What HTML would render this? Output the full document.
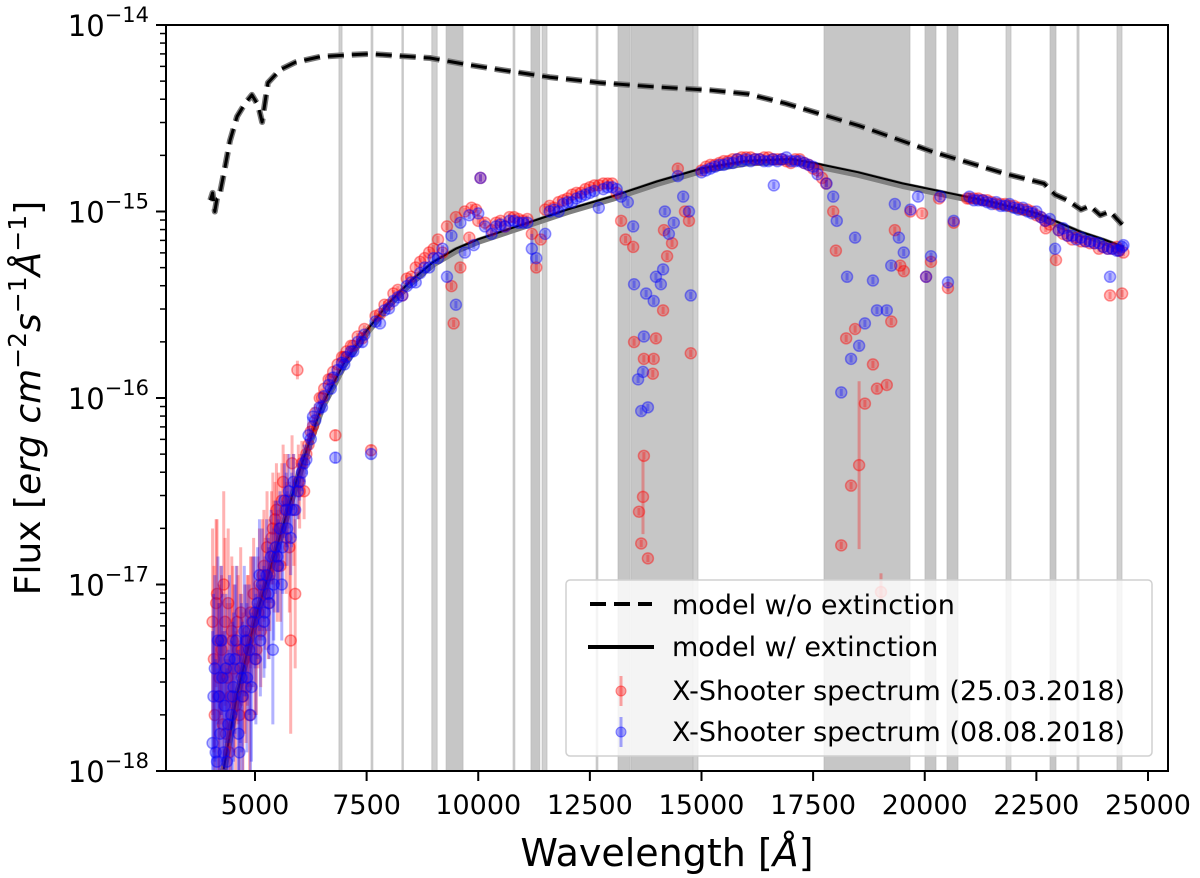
<!DOCTYPE html>
<html><head><meta charset="utf-8"><style>
html,body{margin:0;padding:0;background:#fff;}
svg{display:block;font-family:"DejaVu Sans","Liberation Sans",sans-serif;}
</style></head><body>
<svg id="chart" width="1200" height="878" viewBox="0 0 1200 878" xmlns="http://www.w3.org/2000/svg">
<g id="bands"></g>
<g id="models"></g>
<g id="pts"></g>
<g id="axes"></g>
<g id="legend">
<rect x="566" y="580" width="586" height="176" rx="4" fill="rgba(255,255,255,0.8)" stroke="#d0d0d0" stroke-width="1.5"/>
<g>
<line x1="590" y1="604" x2="652" y2="604" stroke="#000" stroke-width="4" stroke-dasharray="16,8"/>
<text x="672" y="614" font-size="27">model w/o extinction</text></g>
<g>
<line x1="588" y1="647" x2="654" y2="647" stroke="#000" stroke-width="4"/>
<text x="672" y="656" font-size="27">model w/ extinction</text></g>
<g>
<line x1="621" y1="676" x2="621" y2="706" stroke="rgba(255,0,0,0.35)" stroke-width="3"/>
<circle cx="621" cy="691" r="5" fill="rgba(255,0,0,0.35)" stroke="rgba(255,0,0,0.45)"/>
<text x="672" y="700" font-size="27">X-Shooter spectrum (25.03.2018)</text></g>
<g>
<line x1="621" y1="717" x2="621" y2="747" stroke="rgba(0,0,255,0.35)" stroke-width="3"/>
<circle cx="621" cy="732" r="5" fill="rgba(0,0,255,0.35)" stroke="rgba(0,0,255,0.45)"/>
<text x="672" y="741" font-size="27">X-Shooter spectrum (08.08.2018)</text></g>
</g>
</svg>
<script>
// ----- data -----
const xTicks = [5000, 7500, 10000, 12500, 15000, 17500, 20000, 22500, 25000];
const yDecades = [-14, -15, -16, -17, -18];
const bandStarts = [6880, 7600, 8290, 8960, 9280, 10780, 11180, 11430, 12640, 13130, 13420, 14810, 17744, 20005, 20498, 21820, 22805, 23410, 24306];
const bandEnds   = [6950, 7640, 8320, 9080, 9660, 10820, 11380, 11540, 12680, 13400, 14810, 14922, 19670, 20252, 20745, 21932, 22940, 23455, 24418];
const dashW = [4000,4050,4100,4150,4200,4300,4440,4600,4780,4930,5070,5160,5290,5560,5900,6460,7130,7580,8250,8920,9700,10490,11600,12730,13850,15210,16040,16870,17700,18530,19360,20180,21010,21840,22670,22920,23200,23500,23700,23930,24150,24420];
const dashF = [-14.94,-14.9,-15.0,-14.93,-14.92,-14.8,-14.62,-14.49,-14.42,-14.375,-14.43,-14.52,-14.31,-14.24,-14.2,-14.17,-14.16,-14.155,-14.166,-14.177,-14.21,-14.24,-14.28,-14.31,-14.33,-14.35,-14.37,-14.42,-14.48,-14.54,-14.61,-14.68,-14.74,-14.8,-14.85,-14.91,-14.94,-14.99,-14.97,-15.02,-15.0,-15.07];
const solidW = [4300,4600,5000,5500,6000,6500,7000,7500,8000,8500,9000,9500,10000,11000,12000,13000,14000,15000,16000,17000,17500,18500,19500,20500,21500,22500,23000,23500,24000,24450];
const solidF = [-18.0,-17.6,-17.2,-16.8,-16.4,-16.05,-15.82,-15.65,-15.5,-15.38,-15.28,-15.21,-15.16,-15.08,-15.0,-14.93,-14.85,-14.78,-14.74,-14.73,-14.75,-14.8,-14.86,-14.91,-14.96,-15.02,-15.07,-15.12,-15.16,-15.2];
const redW = [4050,4100,4150,4200,4250,4300,4350,4400,4450,4500,4600,4650,4700,4800,4850,4900,5000,5100,5200,5300,5400,5450,5500,5600,5700,5800,5900,5950,6000,6100,6200,6300,6500,6700,6800,7000,7200,7400,7600,7800,8000,8300,8500,8800,9000,9200,9400,9450,9600,9800,10000,10050,10300,10600,11000,11200,11300,11400,11700,12000,12300,12600,12900,13100,13200,13300,13470,13490,13710,13930,13910,13980,13710,13690,13600,13650,13800,14140,14230,14340,14160,14720,14760,14470,14630,15000,15300,15600,16000,16300,16600,17000,17200,17500,17700,17790,17950,18010,18240,18440,18350,18130,18530,18660,18840,18930,19150,19250,19020,19330,19450,19530,19680,19940,20030,20140,20320,20520,20650,20950,21000,21300,21600,21900,22200,22500,22800,22710,22940,23100,23300,23500,23700,23900,24100,24150,24420,24300,24450];
const redF = [-17.2,-17.7,-17.05,-17.5,-17.35,-17.0,-17.8,-17.1,-17.6,-17.3,-17.2,-17.7,-17.35,-17.55,-17.25,-17.15,-17.4,-17.0,-16.9,-17.1,-16.7,-16.65,-16.9,-16.55,-16.75,-17.3,-17.05,-15.85,-16.5,-16.5,-16.25,-16.15,-16.0,-15.9,-16.2,-15.78,-15.72,-15.68,-16.28,-15.55,-15.5,-15.45,-15.35,-15.25,-15.2,-15.22,-15.4,-15.6,-15.3,-15.14,-15.05,-14.82,-15.1,-15.08,-15.05,-15.12,-15.3,-15.15,-14.98,-14.93,-14.9,-14.86,-14.85,-14.9,-15.05,-15.15,-15.19,-15.7,-15.79,-15.79,-15.87,-15.68,-16.31,-16.53,-16.61,-16.78,-16.86,-15.53,-15.24,-15.17,-15.1,-15.05,-15.76,-14.77,-15.0,-14.78,-14.75,-14.73,-14.71,-14.72,-14.72,-14.74,-14.72,-14.77,-14.82,-14.85,-15.0,-15.21,-15.68,-15.63,-16.47,-16.79,-16.36,-16.03,-15.82,-15.95,-15.93,-15.59,-17.04,-15.1,-15.29,-15.32,-15.0,-15.01,-15.35,-15.27,-14.93,-15.41,-15.06,-14.93,-14.93,-14.94,-14.96,-14.97,-14.99,-15.02,-15.07,-15.09,-15.26,-15.12,-15.15,-15.16,-15.17,-15.2,-15.2,-15.45,-15.44,-15.19,-15.22];
const redE = [0.5,0.4,0.4,0.5,0.4,0.5,0.4,0.4,0.5,0.4,0.3,0.4,0.3,0.3,0.3,0.3,0.3,0.3,0.3,0.3,0.3,0.2,0.3,0.2,0.3,0.5,0.4,0.05,0.2,0.15,0.1,0.05,0.05,0.03,0.03,0.03,0.03,0.03,0.03,0.02,0.02,0.02,0.02,0.02,0.02,0.02,0.02,0.02,0.02,0.02,0.02,0.02,0.02,0.02,0.02,0.02,0.02,0.02,0.02,0.02,0.02,0.02,0.02,0.02,0.02,0.02,0.02,0.02,0.02,0.02,0.02,0.02,0.02,0.2,0.02,0.02,0.02,0.02,0.02,0.02,0.02,0.02,0.02,0.02,0.02,0.02,0.02,0.02,0.02,0.02,0.02,0.02,0.02,0.02,0.02,0.02,0.02,0.02,0.02,0.02,0.02,0.02,0.45,0.02,0.02,0.02,0.02,0.02,0.1,0.02,0.02,0.02,0.02,0.02,0.02,0.02,0.02,0.02,0.02,0.02,0.02,0.02,0.02,0.02,0.02,0.02,0.02,0.02,0.02,0.02,0.02,0.02,0.02,0.02,0.02,0.02,0.02,0.02,0.02];
const redW2 = [4080,4130,4180,4230,4280,4330,4380,4420,4480,4530,4570,4620,4680,4730,4770,4830,4880,4930,4970,5030,5070,5130,5170,5230,5270,5330,5370,5430,5480,5530,5570,5630,5670,5730,5770,5830,5870,5970,6050,6150,6250,6350,6450,6550,6650,6750,6850,6950,7050,7150,7300,7450,7700,7900,8100,8200,8400,8600,8700,8900,9100,9300,9500,9700,9850,9950,10150,10400,10500,10700,10800,10900,11100,11500,11600,11800,11900,12100,12200,12400,12500,12700,12800,13000,15100,15200,15400,15500,15700,15800,15900,16100,16200,16400,16500,16700,16800,16900,17100,17300,17400,17600,21100,21200,21400,21500,21700,21800,22000,22100,22300,22400,22600,22700,23000,23200,23400,23600,23800,24000,24200,24350];
const redF2 = [-17.4,-17.1,-17.6,-17.3,-17.75,-17.2,-17.5,-17.9,-17.25,-17.45,-17.65,-17.35,-17.15,-17.6,-17.4,-17.3,-17.7,-17.2,-17.05,-17.35,-17.15,-17.25,-16.95,-17.05,-16.8,-16.95,-16.75,-16.85,-16.6,-16.7,-16.9,-16.45,-16.6,-16.55,-16.8,-16.35,-16.6,-16.45,-16.35,-16.3,-16.18,-16.08,-16.0,-15.95,-15.9,-15.86,-15.82,-15.78,-15.75,-15.72,-15.67,-15.63,-15.56,-15.5,-15.44,-15.42,-15.36,-15.3,-15.27,-15.22,-15.15,-15.08,-15.03,-15.0,-14.98,-14.99,-15.06,-15.06,-15.05,-15.03,-15.03,-15.04,-15.04,-14.99,-14.97,-14.95,-14.94,-14.91,-14.9,-14.88,-14.87,-14.86,-14.85,-14.85,-14.76,-14.75,-14.74,-14.73,-14.72,-14.72,-14.71,-14.71,-14.72,-14.71,-14.71,-14.72,-14.72,-14.73,-14.72,-14.74,-14.75,-14.78,-14.93,-14.93,-14.94,-14.95,-14.96,-14.96,-14.97,-14.98,-14.99,-15.0,-15.03,-15.05,-15.1,-15.13,-15.14,-15.16,-15.17,-15.19,-15.2,-15.21];
const redE2 = [0.5,0.45,0.5,0.4,0.5,0.45,0.4,0.5,0.4,0.45,0.4,0.4,0.35,0.45,0.4,0.35,0.4,0.35,0.3,0.35,0.3,0.3,0.3,0.3,0.3,0.3,0.25,0.3,0.25,0.3,0.3,0.2,0.3,0.25,0.35,0.15,0.3,0.2,0.12,0.08,0.06,0.05,0.04,0.03,0.03,0.03,0.03,0.03,0.02,0.02,0.02,0.02,0.02,0.02,0.02,0.02,0.02,0.02,0.02,0.02,0.02,0.02,0.02,0.02,0.02,0.02,0.02,0.02,0.02,0.02,0.02,0.02,0.02,0.02,0.02,0.02,0.02,0.02,0.02,0.02,0.02,0.02,0.02,0.02,0.02,0.02,0.02,0.02,0.02,0.02,0.02,0.02,0.02,0.02,0.02,0.02,0.02,0.02,0.02,0.02,0.02,0.02,0.02,0.02,0.02,0.02,0.02,0.02,0.02,0.02,0.02,0.02,0.02,0.02,0.02,0.02,0.02,0.02,0.02,0.02,0.02,0.02];
const blueW = [4050,4100,4150,4200,4250,4300,4350,4400,4500,4550,4650,4700,4800,4900,5000,5100,5200,5300,5400,5500,5600,5700,5800,5900,6000,6100,6200,6300,6500,6700,6800,7000,7200,7400,7600,7800,8000,8300,8600,8900,9100,9300,9500,9700,9900,10050,10300,10600,11000,11200,11300,11500,11800,12100,12500,12700,12900,13200,13350,13470,13490,13760,13930,13710,13580,13690,13650,13800,13980,14090,14140,14270,14380,14180,14590,14720,14760,14470,15000,15400,15800,16200,16500,16620,16900,17200,17500,17800,17950,18030,18440,18260,18130,18350,18530,18660,18930,19150,18840,19250,19330,19420,19530,19680,19850,20030,20140,20520,20650,20350,21000,21300,21600,21900,22200,22500,22800,22920,23100,23300,23500,23700,23900,24100,24150,24300,24420,24450];
const blueF = [-17.85,-17.45,-17.95,-17.6,-17.3,-17.9,-17.45,-17.75,-17.6,-17.4,-17.9,-17.5,-17.3,-17.7,-17.15,-16.95,-17.2,-17.05,-17.35,-16.85,-17.0,-16.6,-16.75,-16.6,-16.45,-16.35,-16.2,-16.1,-16.05,-15.95,-16.32,-15.82,-15.75,-15.7,-16.3,-15.6,-15.52,-15.45,-15.38,-15.3,-15.25,-15.35,-15.5,-15.22,-15.18,-14.82,-15.12,-15.08,-15.06,-15.2,-15.25,-15.12,-15.0,-14.95,-14.9,-14.98,-14.87,-14.92,-14.95,-15.08,-15.39,-15.44,-15.48,-15.67,-15.9,-15.86,-16.07,-16.05,-15.35,-15.39,-15.31,-15.12,-15.06,-15.0,-14.92,-15.0,-15.45,-14.81,-14.79,-14.75,-14.72,-14.72,-14.73,-14.86,-14.71,-14.73,-14.76,-14.85,-14.92,-15.05,-15.14,-15.35,-15.97,-15.79,-15.72,-15.6,-15.53,-15.53,-15.37,-15.29,-14.96,-15.14,-15.22,-14.99,-14.92,-15.35,-15.24,-15.38,-15.05,-14.92,-14.92,-14.94,-14.95,-14.96,-14.98,-15.0,-15.04,-15.2,-15.09,-15.13,-15.14,-15.16,-15.17,-15.2,-15.35,-15.21,-15.19,-15.18];
const blueE = [0.6,0.5,0.5,0.5,0.4,0.4,0.4,0.4,0.4,0.4,0.3,0.4,0.3,0.4,0.3,0.3,0.3,0.3,0.4,0.3,0.3,0.2,0.2,0.15,0.1,0.1,0.1,0.05,0.04,0.03,0.03,0.03,0.03,0.03,0.03,0.02,0.02,0.02,0.02,0.02,0.02,0.02,0.02,0.02,0.02,0.02,0.02,0.02,0.02,0.08,0.02,0.02,0.02,0.02,0.02,0.02,0.02,0.02,0.02,0.02,0.02,0.02,0.02,0.02,0.02,0.02,0.02,0.02,0.02,0.02,0.02,0.02,0.02,0.02,0.02,0.02,0.02,0.02,0.02,0.02,0.02,0.02,0.02,0.02,0.02,0.02,0.02,0.02,0.02,0.02,0.02,0.02,0.02,0.02,0.02,0.02,0.02,0.02,0.02,0.02,0.02,0.02,0.02,0.02,0.02,0.02,0.02,0.02,0.02,0.02,0.02,0.02,0.02,0.02,0.02,0.02,0.02,0.02,0.02,0.02,0.02,0.02,0.02,0.02,0.02,0.02,0.02,0.02];
const blueW2 = [4070,4120,4170,4220,4270,4320,4370,4430,4470,4520,4580,4630,4670,4720,4760,4820,4870,4920,4960,5020,5060,5120,5160,5220,5260,5320,5360,5420,5460,5520,5560,5620,5660,5720,5760,5820,5860,5960,6050,6150,6250,6350,6450,6550,6650,6750,6850,6950,7050,7150,7300,7450,7700,7900,8100,8200,8400,8500,8700,8800,9000,9200,9400,9600,9800,10000,10150,10400,10500,10700,10800,10900,11100,11600,11700,11900,12000,12200,12300,12400,12600,12800,13000,13100,15100,15200,15300,15500,15600,15700,15900,16000,16100,16300,16400,16600,16700,16800,17000,17100,17300,17400,17600,21100,21200,21400,21500,21700,21800,22000,22100,22300,22400,22600,22700,23000,23200,23400,23600,23800,24000,24200,24350];
const blueF2 = [-17.6,-17.9,-17.3,-17.8,-17.5,-17.65,-17.95,-17.4,-17.7,-17.55,-17.3,-17.8,-17.45,-17.6,-17.25,-17.5,-17.35,-17.55,-17.2,-17.4,-17.1,-17.3,-17.0,-17.15,-16.95,-17.1,-16.85,-17.0,-16.8,-16.9,-16.7,-16.8,-16.55,-16.7,-16.5,-16.6,-16.45,-16.5,-16.4,-16.33,-16.22,-16.12,-16.05,-15.99,-15.93,-15.89,-15.85,-15.81,-15.78,-15.75,-15.7,-15.66,-15.59,-15.53,-15.48,-15.46,-15.4,-15.38,-15.33,-15.3,-15.25,-15.2,-15.13,-15.06,-15.02,-15.01,-15.08,-15.08,-15.07,-15.05,-15.05,-15.06,-15.06,-15.0,-14.99,-14.96,-14.95,-14.93,-14.92,-14.91,-14.89,-14.88,-14.87,-14.88,-14.78,-14.77,-14.76,-14.75,-14.74,-14.74,-14.73,-14.72,-14.73,-14.72,-14.73,-14.72,-14.73,-14.72,-14.73,-14.73,-14.74,-14.75,-14.8,-14.94,-14.94,-14.95,-14.96,-14.97,-14.97,-14.98,-14.99,-15.0,-15.01,-15.03,-15.05,-15.1,-15.13,-15.15,-15.16,-15.17,-15.19,-15.2,-15.21];
const blueE2 = [0.55,0.5,0.45,0.5,0.45,0.4,0.5,0.45,0.4,0.4,0.4,0.45,0.4,0.4,0.35,0.4,0.35,0.4,0.35,0.35,0.3,0.3,0.3,0.3,0.3,0.3,0.25,0.3,0.25,0.25,0.2,0.25,0.2,0.2,0.2,0.2,0.15,0.15,0.1,0.08,0.06,0.05,0.04,0.03,0.03,0.03,0.03,0.03,0.02,0.02,0.02,0.02,0.02,0.02,0.02,0.02,0.02,0.02,0.02,0.02,0.02,0.02,0.02,0.02,0.02,0.02,0.02,0.02,0.02,0.02,0.02,0.02,0.02,0.02,0.02,0.02,0.02,0.02,0.02,0.02,0.02,0.02,0.02,0.02,0.02,0.02,0.02,0.02,0.02,0.02,0.02,0.02,0.02,0.02,0.02,0.02,0.02,0.02,0.02,0.02,0.02,0.02,0.02,0.02,0.02,0.02,0.02,0.02,0.02,0.02,0.02,0.02,0.02,0.02,0.02,0.02,0.02,0.02,0.02,0.02,0.02,0.02,0.02];

// ----- scales -----
const L = 166, R = 1168, T = 25, B = 771;
const X0 = 3007, X1 = 25448;
function xs(w){ return L + (w - X0) / (X1 - X0) * (R - L); }
function ys(lf){ return T + (-14 - lf) / 4 * (B - T); }
const NS = 'http://www.w3.org/2000/svg';
function mk(tag, parent, attrs){ const e = document.createElementNS(NS, tag); for (const k in attrs) e.setAttribute(k, attrs[k]); parent.appendChild(e); return e; }

// bands
const gB = document.getElementById('bands');
for (let i = 0; i < bandStarts.length; i++) {
  const x0 = xs(bandStarts[i]), x1 = xs(bandEnds[i]);
  const wide = (x1 - x0) > 6;
  const r = mk('rect', gB, {x: x0, y: T, width: Math.max(1.5, x1 - x0), height: B - T, fill: wide ? '#c6c6c6' : '#c0c0c0', 'fill-opacity': wide ? 1 : 0.75, stroke: '#b4b4b4', 'stroke-width': 1, 'stroke-opacity': 0.6});
  
  
}

// models
const gM = document.getElementById('models');
function pathOf(W, F){ return W.map((w, i) => (i ? 'L' : 'M') + xs(w).toFixed(1) + ',' + Math.min(ys(F[i]), B).toFixed(1)).join(''); }
const ds = pathOf(dashW, dashF), ss = pathOf(solidW, solidF);
let p;
p = mk('path', gM, {d: ds, fill: 'none', stroke: '#7a7a7a', 'stroke-width': 6, 'stroke-dasharray': '16,8', 'stroke-linejoin': 'round'});


p = mk('path', gM, {d: ds, fill: 'none', stroke: '#000', 'stroke-width': 3, 'stroke-dasharray': '16,8', 'stroke-linejoin': 'round'});


p = mk('path', gM, {d: ss, fill: 'none', stroke: '#808080', 'stroke-width': 7, 'stroke-linejoin': 'round'});


p = mk('path', gM, {d: ss, fill: 'none', stroke: '#000', 'stroke-width': 2, 'stroke-linejoin': 'round', transform: 'translate(0,-2)'});



// points
const gP = document.getElementById('pts');
function drawSeries(W, F, E, col, name){
  for (let i = 0; i < W.length; i++) {
    const x = xs(W[i]), y = ys(F[i]);
    const y1 = Math.max(T, ys(F[i] + E[i])), y2 = Math.min(B, ys(F[i] - E[i]));
    const eb = mk('line', gP, {x1: x, x2: x, y1: y1, y2: y2, stroke: 'rgba(' + col + ',0.3)', 'stroke-width': 3});
    
    
    if (y > B + 4) continue;
    const c = mk('circle', gP, {cx: x, cy: y, r: 5.5, fill: 'rgba(' + col + ',0.28)', stroke: 'rgba(' + col + ',0.4)', 'stroke-width': 1.5});
    
    
  }
}
drawSeries(redW, redF, redE, '255,0,0', 'red-spectrum');
drawSeries(redW2, redF2, redE2, '255,0,0', 'red-spectrum');
drawSeries(blueW, blueF, blueE, '0,0,255', 'blue-spectrum');
drawSeries(blueW2, blueF2, blueE2, '0,0,255', 'blue-spectrum');

// axes
const gA = document.getElementById('axes');
let fr = mk('rect', gA, {x: L, y: T, width: R - L, height: B - T, fill: 'none', stroke: '#000', 'stroke-width': 2});


xTicks.forEach(t => {
  const x = xs(t);
  const tk = mk('line', gA, {x1: x, x2: x, y1: B, y2: B + 10, stroke: '#000', 'stroke-width': 2});
  
  
  const tx = mk('text', gA, {x: x, y: B + 43, 'font-size': 27, 'text-anchor': 'middle'});
  tx.textContent = t;
  
  
});
yDecades.forEach(d => {
  const y = ys(d);
  const tk = mk('line', gA, {x1: L - 10, x2: L, y1: y, y2: y, stroke: '#000', 'stroke-width': 2});
  
  
  const tx = mk('text', gA, {x: L - 17, y: y + 11, 'font-size': 29, 'text-anchor': 'end'});
  tx.innerHTML = '10<tspan dy="-14" font-size="21">−' + (-d) + '</tspan>';
  
  
  if (d > -18) {
    for (let m = 2; m <= 9; m++) {
      const ym = ys(d - 1 + Math.log10(m));
      const mt = mk('line', gA, {x1: L - 6, x2: L, y1: ym, y2: ym, stroke: '#000', 'stroke-width': 1.5});
      
      
    }
  }
});
const xt = mk('text', gA, {x: (L + R) / 2, y: 866, 'font-size': 38, 'text-anchor': 'middle'});
xt.innerHTML = 'Wavelength [<tspan font-style="italic">Å</tspan>]';


const yt = mk('text', gA, {x: 0, y: 0, 'font-size': 36, 'text-anchor': 'middle', transform: 'translate(40,' + ((T + B) / 2) + ') rotate(-90)'});
yt.innerHTML = 'Flux [<tspan font-style="italic">erg cm</tspan><tspan dy="-14" font-size="25">−2</tspan><tspan dy="14" font-style="italic">s</tspan><tspan dy="-14" font-size="25">−1</tspan><tspan dy="14" font-style="italic">Å</tspan><tspan dy="-14" font-size="25">−1</tspan><tspan dy="14">]</tspan>';


</script>
</body></html>
